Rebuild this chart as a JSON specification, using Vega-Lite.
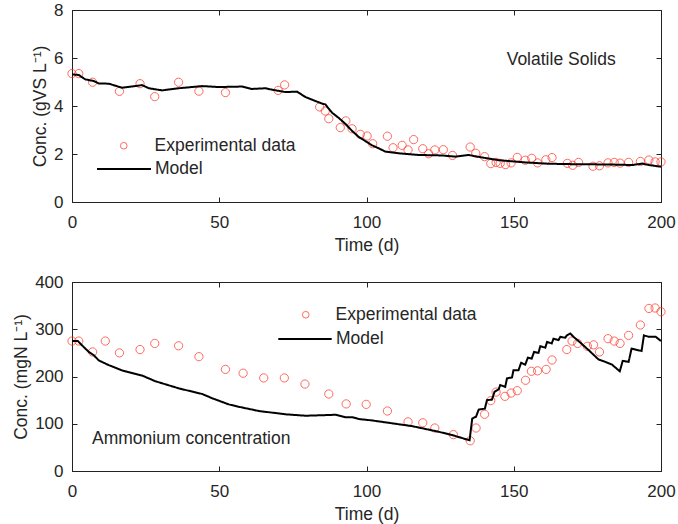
{
  "$schema": "https://vega.github.io/schema/vega-lite/v6.json",
  "background": "white",
  "padding": {"left": 12, "top": 0, "right": 4, "bottom": 2},
  "spacing": 18,
  "config": {
    "view": {"stroke": "#222222", "strokeWidth": 1},
    "axis": {
      "grid": false, "domain": true, "domainColor": "#222222", "domainWidth": 1,
      "labelFlush": false, "labelOverlap": false,
      "labelFont": "Liberation Sans", "labelFontSize": 17, "labelColor": "#262626",
      "titleFont": "Liberation Sans", "titleFontSize": 17.5, "titleFontWeight": "normal", "titleColor": "#262626",
      "tickColor": "#222222", "tickWidth": 1, "tickSize": -5
    },
    "legend": {
      "labelFont": "Liberation Sans", "labelFontSize": 17.5, "labelColor": "#262626",
      "padding": 0, "title": null, "orient": "none"
    }
  },
  "datasets": {
    "vs_exp": [
      {"t":0,"v":5.35,"series":"Experimental data"},{"t":2.3,"v":5.35,"series":"Experimental data"},{"t":7.0,"v":4.99,"series":"Experimental data"},{"t":16.1,"v":4.61,"series":"Experimental data"},{"t":23.1,"v":4.93,"series":"Experimental data"},{"t":28.1,"v":4.39,"series":"Experimental data"},{"t":36.2,"v":4.99,"series":"Experimental data"},{"t":43.1,"v":4.62,"series":"Experimental data"},{"t":52.1,"v":4.56,"series":"Experimental data"},{"t":70.0,"v":4.65,"series":"Experimental data"},{"t":72.2,"v":4.88,"series":"Experimental data"},{"t":84.1,"v":3.96,"series":"Experimental data"},{"t":86.0,"v":3.79,"series":"Experimental data"},{"t":87.2,"v":3.47,"series":"Experimental data"},{"t":91.1,"v":3.10,"series":"Experimental data"},{"t":93.0,"v":3.38,"series":"Experimental data"},{"t":95.1,"v":3.05,"series":"Experimental data"},{"t":97.9,"v":2.82,"series":"Experimental data"},{"t":100.2,"v":2.75,"series":"Experimental data"},{"t":102.1,"v":2.43,"series":"Experimental data"},{"t":107.1,"v":2.74,"series":"Experimental data"},{"t":109.0,"v":2.26,"series":"Experimental data"},{"t":112.1,"v":2.36,"series":"Experimental data"},{"t":114.1,"v":2.17,"series":"Experimental data"},{"t":116.0,"v":2.60,"series":"Experimental data"},{"t":119.1,"v":2.22,"series":"Experimental data"},{"t":121.1,"v":2.01,"series":"Experimental data"},{"t":123.2,"v":2.17,"series":"Experimental data"},{"t":126.1,"v":2.18,"series":"Experimental data"},{"t":129.2,"v":1.94,"series":"Experimental data"},{"t":135.2,"v":2.29,"series":"Experimental data"},{"t":137.1,"v":2.03,"series":"Experimental data"},{"t":140.1,"v":1.89,"series":"Experimental data"},{"t":142.2,"v":1.60,"series":"Experimental data"},{"t":144.0,"v":1.65,"series":"Experimental data"},{"t":145.4,"v":1.61,"series":"Experimental data"},{"t":147.2,"v":1.56,"series":"Experimental data"},{"t":149.1,"v":1.63,"series":"Experimental data"},{"t":151.2,"v":1.86,"series":"Experimental data"},{"t":153.9,"v":1.74,"series":"Experimental data"},{"t":156.1,"v":1.82,"series":"Experimental data"},{"t":158.1,"v":1.63,"series":"Experimental data"},{"t":160.9,"v":1.76,"series":"Experimental data"},{"t":163.0,"v":1.85,"series":"Experimental data"},{"t":168.2,"v":1.61,"series":"Experimental data"},{"t":170.0,"v":1.53,"series":"Experimental data"},{"t":172.0,"v":1.65,"series":"Experimental data"},{"t":176.9,"v":1.49,"series":"Experimental data"},{"t":179.1,"v":1.51,"series":"Experimental data"},{"t":182.0,"v":1.63,"series":"Experimental data"},{"t":184.1,"v":1.65,"series":"Experimental data"},{"t":186.1,"v":1.62,"series":"Experimental data"},{"t":189.0,"v":1.65,"series":"Experimental data"},{"t":193.0,"v":1.69,"series":"Experimental data"},{"t":195.9,"v":1.75,"series":"Experimental data"},{"t":198.0,"v":1.67,"series":"Experimental data"},{"t":200.0,"v":1.67,"series":"Experimental data"}
    ],
    "vs_model": [
      {"t":0,"v":5.32,"series":"Model"},{"t":2.3,"v":5.29,"series":"Model"},{"t":4.5,"v":5.11,"series":"Model"},{"t":7.4,"v":5.04,"series":"Model"},{"t":9.1,"v":4.94,"series":"Model"},{"t":12.5,"v":4.93,"series":"Model"},{"t":17.0,"v":4.76,"series":"Model"},{"t":23.8,"v":4.87,"series":"Model"},{"t":26.1,"v":4.74,"series":"Model"},{"t":30.6,"v":4.65,"series":"Model"},{"t":36.3,"v":4.74,"series":"Model"},{"t":44.2,"v":4.83,"series":"Model"},{"t":49.8,"v":4.79,"series":"Model"},{"t":57.7,"v":4.81,"series":"Model"},{"t":61.1,"v":4.71,"series":"Model"},{"t":65.7,"v":4.74,"series":"Model"},{"t":67.9,"v":4.68,"series":"Model"},{"t":72.5,"v":4.58,"series":"Model"},{"t":76.4,"v":4.60,"series":"Model"},{"t":79.3,"v":4.37,"series":"Model"},{"t":84.9,"v":4.10,"series":"Model"},{"t":86.0,"v":4.07,"series":"Model"},{"t":88.3,"v":3.72,"series":"Model"},{"t":90.5,"v":3.51,"series":"Model"},{"t":92.8,"v":3.26,"series":"Model"},{"t":95.1,"v":2.96,"series":"Model"},{"t":97.4,"v":2.71,"series":"Model"},{"t":99.6,"v":2.54,"series":"Model"},{"t":101.9,"v":2.36,"series":"Model"},{"t":104.1,"v":2.24,"series":"Model"},{"t":106.4,"v":2.10,"series":"Model"},{"t":110.9,"v":2.03,"series":"Model"},{"t":117.7,"v":1.96,"series":"Model"},{"t":125.6,"v":1.94,"series":"Model"},{"t":130.2,"v":1.89,"series":"Model"},{"t":134.7,"v":1.96,"series":"Model"},{"t":138.1,"v":1.88,"series":"Model"},{"t":144.9,"v":1.74,"series":"Model"},{"t":154.0,"v":1.65,"series":"Model"},{"t":160.7,"v":1.60,"series":"Model"},{"t":167.5,"v":1.58,"series":"Model"},{"t":176.6,"v":1.57,"series":"Model"},{"t":183.4,"v":1.56,"series":"Model"},{"t":190.2,"v":1.54,"series":"Model"},{"t":193.6,"v":1.60,"series":"Model"},{"t":195.9,"v":1.54,"series":"Model"},{"t":200.0,"v":1.47,"series":"Model"}
    ],
    "nh_exp": [
      {"t":0,"v":275,"series":"Experimental data"},{"t":2.3,"v":275,"series":"Experimental data"},{"t":7.0,"v":252,"series":"Experimental data"},{"t":11.3,"v":275,"series":"Experimental data"},{"t":16.1,"v":250,"series":"Experimental data"},{"t":23.1,"v":257,"series":"Experimental data"},{"t":28.1,"v":270,"series":"Experimental data"},{"t":36.2,"v":265,"series":"Experimental data"},{"t":43.1,"v":242,"series":"Experimental data"},{"t":52.1,"v":215,"series":"Experimental data"},{"t":58.1,"v":207,"series":"Experimental data"},{"t":65.1,"v":197,"series":"Experimental data"},{"t":72.1,"v":197,"series":"Experimental data"},{"t":79.1,"v":184,"series":"Experimental data"},{"t":87.2,"v":163,"series":"Experimental data"},{"t":93.1,"v":142,"series":"Experimental data"},{"t":99.9,"v":141,"series":"Experimental data"},{"t":107.1,"v":127,"series":"Experimental data"},{"t":114.1,"v":104,"series":"Experimental data"},{"t":119.1,"v":102,"series":"Experimental data"},{"t":123.2,"v":91,"series":"Experimental data"},{"t":129.5,"v":77,"series":"Experimental data"},{"t":135.2,"v":64,"series":"Experimental data"},{"t":137.2,"v":91,"series":"Experimental data"},{"t":140.1,"v":120,"series":"Experimental data"},{"t":142.2,"v":149,"series":"Experimental data"},{"t":144.0,"v":167,"series":"Experimental data"},{"t":147.0,"v":158,"series":"Experimental data"},{"t":149.1,"v":165,"series":"Experimental data"},{"t":151.2,"v":170,"series":"Experimental data"},{"t":154.0,"v":192,"series":"Experimental data"},{"t":156.0,"v":211,"series":"Experimental data"},{"t":158.1,"v":212,"series":"Experimental data"},{"t":161.0,"v":215,"series":"Experimental data"},{"t":163.0,"v":235,"series":"Experimental data"},{"t":168.0,"v":257,"series":"Experimental data"},{"t":169.8,"v":275,"series":"Experimental data"},{"t":171.7,"v":270,"series":"Experimental data"},{"t":175.0,"v":264,"series":"Experimental data"},{"t":177.1,"v":267,"series":"Experimental data"},{"t":179.1,"v":252,"series":"Experimental data"},{"t":182.0,"v":280,"series":"Experimental data"},{"t":184.1,"v":275,"series":"Experimental data"},{"t":186.1,"v":270,"series":"Experimental data"},{"t":189.0,"v":287,"series":"Experimental data"},{"t":193.0,"v":309,"series":"Experimental data"},{"t":195.9,"v":344,"series":"Experimental data"},{"t":198.0,"v":345,"series":"Experimental data"},{"t":200.0,"v":337,"series":"Experimental data"}
    ],
    "nh_model": [
      {"t":0,"v":275,"series":"Model"},{"t":2.0,"v":275,"series":"Model"},{"t":3.4,"v":266,"series":"Model"},{"t":5.7,"v":252,"series":"Model"},{"t":7.4,"v":245,"series":"Model"},{"t":9.1,"v":234,"series":"Model"},{"t":12.5,"v":224,"series":"Model"},{"t":17.0,"v":213,"series":"Model"},{"t":23.8,"v":202,"series":"Model"},{"t":28.3,"v":190,"series":"Model"},{"t":36.2,"v":175,"series":"Model"},{"t":44.2,"v":163,"series":"Model"},{"t":47.6,"v":154,"series":"Model"},{"t":53.2,"v":141,"series":"Model"},{"t":56.6,"v":136,"series":"Model"},{"t":63.4,"v":127,"series":"Model"},{"t":72.5,"v":120,"series":"Model"},{"t":79.3,"v":117,"series":"Model"},{"t":84.9,"v":118,"series":"Model"},{"t":89.5,"v":119,"series":"Model"},{"t":92.8,"v":114,"series":"Model"},{"t":95.1,"v":114,"series":"Model"},{"t":97.4,"v":110,"series":"Model"},{"t":101.9,"v":107,"series":"Model"},{"t":106.4,"v":103,"series":"Model"},{"t":110.9,"v":99,"series":"Model"},{"t":115.5,"v":95,"series":"Model"},{"t":120.0,"v":89,"series":"Model"},{"t":124.5,"v":83,"series":"Model"},{"t":129.1,"v":76,"series":"Model"},{"t":135.0,"v":65,"series":"Model"},{"t":135.9,"v":111,"series":"Model"},{"t":137.2,"v":115,"series":"Model"},{"t":138.1,"v":130,"series":"Model"},{"t":140.2,"v":132,"series":"Model"},{"t":140.9,"v":150,"series":"Model"},{"t":142.6,"v":151,"series":"Model"},{"t":143.5,"v":168,"series":"Model"},{"t":144.9,"v":173,"series":"Model"},{"t":145.4,"v":182,"series":"Model"},{"t":147.1,"v":178,"series":"Model"},{"t":147.7,"v":196,"series":"Model"},{"t":149.4,"v":198,"series":"Model"},{"t":149.9,"v":213,"series":"Model"},{"t":151.6,"v":213,"series":"Model"},{"t":152.5,"v":229,"series":"Model"},{"t":153.9,"v":225,"series":"Model"},{"t":154.8,"v":240,"series":"Model"},{"t":156.1,"v":238,"series":"Model"},{"t":156.9,"v":252,"series":"Model"},{"t":158.4,"v":250,"series":"Model"},{"t":159.0,"v":264,"series":"Model"},{"t":160.7,"v":261,"series":"Model"},{"t":161.3,"v":273,"series":"Model"},{"t":162.9,"v":270,"series":"Model"},{"t":163.5,"v":280,"series":"Model"},{"t":165.2,"v":277,"series":"Model"},{"t":165.8,"v":284,"series":"Model"},{"t":167.5,"v":282,"series":"Model"},{"t":168.0,"v":287,"series":"Model"},{"t":169.2,"v":291,"series":"Model"},{"t":170.3,"v":284,"series":"Model"},{"t":172.0,"v":275,"series":"Model"},{"t":175.4,"v":256,"series":"Model"},{"t":178.8,"v":236,"series":"Model"},{"t":181.1,"v":231,"series":"Model"},{"t":183.4,"v":225,"series":"Model"},{"t":186.0,"v":211,"series":"Model"},{"t":187.0,"v":233,"series":"Model"},{"t":189.0,"v":231,"series":"Model"},{"t":190.0,"v":259,"series":"Model"},{"t":193.4,"v":254,"series":"Model"},{"t":194.2,"v":287,"series":"Model"},{"t":195.9,"v":284,"series":"Model"},{"t":198.2,"v":284,"series":"Model"},{"t":200.0,"v":275,"series":"Model"}
    ]
  },
  "resolve": {"scale": {"color": "independent", "strokeDash": "independent"}, "legend": {"color": "independent", "strokeDash": "independent"}},
  "vconcat": [
    {
      "width": 589, "height": 192,
      "resolve": {"axis": {"x": "independent", "y": "independent"}},
      "layer": [
        {
          "data": {"name": "vs_exp"},
          "mark": {"type": "point", "shape": "circle", "filled": false, "size": 68, "strokeWidth": 1},
          "encoding": {
            "x": {"field": "t", "type": "quantitative", "scale": {"domain": [0, 200]},
              "axis": {"orient": "bottom", "values": [0, 50, 100, 150, 200], "labelPadding": 17, "title": "Time (d)", "titlePadding": 6}},
            "y": {"field": "v", "type": "quantitative", "scale": {"domain": [0, 8]},
              "axis": {"orient": "left", "values": [0, 2, 4, 6, 8], "labelPadding": 14, "title": "Conc. (gVS L⁻¹)", "titlePadding": 4}},
            "color": {"field": "series", "type": "nominal", "scale": {"domain": ["Experimental data"], "range": ["#ff2a1a"]},
              "legend": {"orient": "none", "legendX": 43, "legendY": 127, "symbolType": "circle", "symbolSize": 44, "symbolStrokeWidth": 1, "labelOffset": 22}}
          }
        },
        {
          "data": {"name": "vs_model"},
          "mark": {"type": "line", "color": "#000000", "strokeWidth": 2},
          "encoding": {
            "x": {"field": "t", "type": "quantitative",
              "axis": {"orient": "top", "values": [0, 50, 100, 150, 200], "labels": false, "title": null}},
            "y": {"field": "v", "type": "quantitative",
              "axis": {"orient": "right", "values": [0, 2, 4, 6, 8], "labels": false, "title": null}},
            "strokeDash": {"field": "series", "type": "nominal", "scale": {"domain": ["Model"], "range": [[1, 0]]},
              "legend": {"orient": "none", "legendX": 24, "legendY": 131, "symbolType": "stroke", "symbolSize": 2916, "symbolStrokeWidth": 2, "symbolStrokeColor": "#000000", "labelOffset": 3}}
          }
        },
        {
          "data": {"values": [{"t": 166.1, "v": 5.92, "label": "Volatile Solids"}]},
          "mark": {"type": "text", "font": "Liberation Sans", "fontSize": 17.5, "color": "#262626", "align": "center", "baseline": "middle"},
          "encoding": {
            "x": {"field": "t", "type": "quantitative", "axis": null},
            "y": {"field": "v", "type": "quantitative", "axis": null},
            "text": {"field": "label"}
          }
        }
      ]
    },
    {
      "width": 589, "height": 189,
      "resolve": {"axis": {"x": "independent", "y": "independent"}},
      "layer": [
        {
          "data": {"name": "nh_exp"},
          "mark": {"type": "point", "shape": "circle", "filled": false, "size": 68, "strokeWidth": 1},
          "encoding": {
            "x": {"field": "t", "type": "quantitative", "scale": {"domain": [0, 200]},
              "axis": {"orient": "bottom", "values": [0, 50, 100, 150, 200], "labelPadding": 17, "title": "Time (d)", "titlePadding": 6}},
            "y": {"field": "v", "type": "quantitative", "scale": {"domain": [0, 400]},
              "axis": {"orient": "left", "values": [0, 100, 200, 300, 400], "labelPadding": 14, "title": "Conc. (mgN L⁻¹)", "titlePadding": 4}},
            "color": {"field": "series", "type": "nominal", "scale": {"domain": ["Experimental data"], "range": ["#ff2a1a"]},
              "legend": {"orient": "none", "legendX": 225, "legendY": 24, "symbolType": "circle", "symbolSize": 44, "symbolStrokeWidth": 1, "labelOffset": 21}}
          }
        },
        {
          "data": {"name": "nh_model"},
          "mark": {"type": "line", "color": "#000000", "strokeWidth": 2},
          "encoding": {
            "x": {"field": "t", "type": "quantitative",
              "axis": {"orient": "top", "values": [0, 50, 100, 150, 200], "labels": false, "title": null}},
            "y": {"field": "v", "type": "quantitative",
              "axis": {"orient": "right", "values": [0, 100, 200, 300, 400], "labels": false, "title": null}},
            "strokeDash": {"field": "series", "type": "nominal", "scale": {"domain": ["Model"], "range": [[1, 0]]},
              "legend": {"orient": "none", "legendX": 205, "legendY": 29, "symbolType": "stroke", "symbolSize": 2852, "symbolStrokeWidth": 2, "symbolStrokeColor": "#000000", "labelOffset": 3}}
          }
        },
        {
          "data": {"values": [{"t": 6.8, "v": 67.6, "label": "Ammonium concentration"}]},
          "mark": {"type": "text", "font": "Liberation Sans", "fontSize": 17.5, "color": "#262626", "align": "left", "baseline": "middle"},
          "encoding": {
            "x": {"field": "t", "type": "quantitative", "axis": null},
            "y": {"field": "v", "type": "quantitative", "axis": null},
            "text": {"field": "label"}
          }
        }
      ]
    }
  ]
}
